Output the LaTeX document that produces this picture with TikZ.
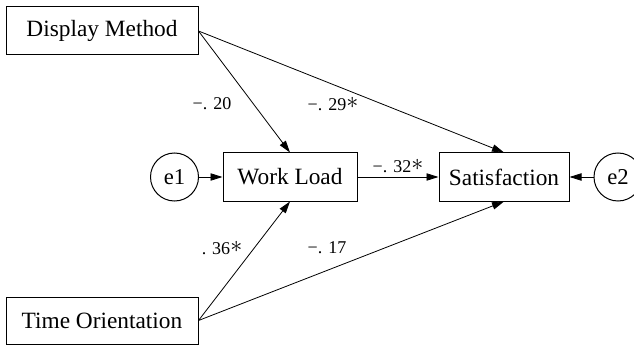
\documentclass[tikz,border=0pt]{standalone}
\usepackage{fontspec}
\setmainfont{Liberation Serif}
\usetikzlibrary{arrows.meta}
\newcommand{\sig}{\raisebox{0.2ex}{\scalebox{1.25}{$\ast$}}}
\tikzset{
  varbox/.style={
    rectangle, draw, line width=0.75pt, fill=white,
    inner sep=0pt, minimum height=36pt,
    font=\fontsize{17.5}{20}\selectfont
  },
  errnode/.style={
    circle, draw, line width=0.75pt, fill=white,
    inner sep=0pt, minimum size=36pt,
    font=\fontsize{17}{20}\selectfont
  },
  patharrow/.style={-{Triangle[length=9pt,width=5.5pt]}, line width=0.6pt},
  coeflabel/.style={inner sep=0pt, font=\fontsize{13.5}{15}\selectfont},
}
\begin{document}
\begin{tikzpicture}[x=0.75pt,y=-0.75pt]
  \useasboundingbox (0,0) rectangle (634,345);
  % observed variables
  \node[varbox, minimum width=144pt] (dm) at (102,31) {Display Method};
  \node[varbox, minimum width=144pt, minimum height=35.25pt] (to) at (102,320.5) {Time Orientation};
  \node[varbox, minimum width=100.5pt] (wl) at (290,177) {Work Load};
  \node[varbox, minimum width=97.5pt] (sat) at (504,177) {Satisfaction};
  % error terms
  \node[errnode] (e1) at (174.5,177) {e1};
  \node[errnode] (e2) at (618,177) {e2};
  % paths
  \foreach \a/\b in {dm.east/wl.north,dm.east/sat.north,to.east/wl.south,to.east/sat.south,e1/wl,wl/sat,e2/sat}
    \draw[patharrow] (\a) -- (\b);
  % coefficients
  \node[coeflabel] (c1) at (212,104) {−. 20};
  \node[coeflabel] (c2) at (333,104) {−. 29\sig};
  \node[coeflabel] (c3) at (398,166) {−. 32\sig};
  \node[coeflabel] (c4) at (222,248) {. 36\sig};
  \node[coeflabel] (c5) at (327,248) {−. 17};
\end{tikzpicture}
\end{document}
